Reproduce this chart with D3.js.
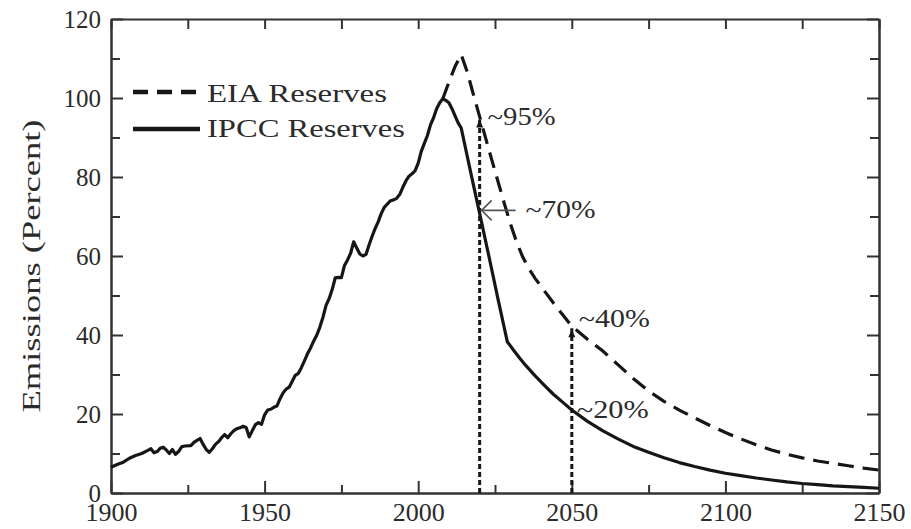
<!DOCTYPE html>
<html>
<head>
<meta charset="utf-8">
<script src="https://cdn.jsdelivr.net/npm/d3@7"></script>
<style>
  html, body { margin: 0; padding: 0; background: #fff; }
  svg { display: block; }
  text { font-family: "Liberation Serif", "Times New Roman", serif; fill: #2b2b2b; }
</style>
</head>
<body>
<svg id="chart" width="911" height="529"></svg>
<script>
// Historical emissions 1900-2014 followed by the IPCC-reserves projection (percent of peak)
const ipccYears = [
  1900, 1902, 1904, 1906, 1908, 1910, 1912, 1913, 1914, 1915, 1916, 1917, 1918, 1919,
  1920, 1921, 1922, 1923, 1924, 1926, 1927, 1928, 1929, 1930, 1931, 1932, 1933, 1934,
  1935, 1936, 1937, 1938, 1939, 1940, 1941, 1942, 1943, 1944, 1945, 1946, 1947, 1948,
  1949, 1950, 1951, 1952, 1953, 1954, 1955, 1956, 1957, 1958, 1959, 1960, 1961, 1962,
  1963, 1964, 1965, 1966, 1967, 1968, 1969, 1970, 1971, 1972, 1973, 1974, 1975, 1976,
  1977, 1978, 1979, 1980, 1981, 1982, 1983, 1984, 1985, 1986, 1987, 1988, 1989, 1990,
  1991, 1992, 1993, 1994, 1995, 1996, 1997, 1998, 1999, 2000, 2001, 2002, 2003, 2004,
  2005, 2006, 2007, 2008, 2009, 2010, 2011, 2012, 2013, 2014, 2017, 2020, 2023, 2026,
  2029, 2031, 2033, 2035, 2038, 2041, 2044, 2047, 2050, 2055, 2060, 2065, 2070, 2075,
  2080, 2085, 2090, 2095, 2100, 2105, 2110, 2115, 2120, 2125, 2130, 2135, 2140, 2145, 2150
];
const ipccValues = [
  6.5, 7.2, 7.8, 8.8, 9.5, 10.0, 10.8, 11.2, 10.2, 10.5, 11.3, 11.6, 10.9, 10.0,
  11.0, 9.8, 10.5, 11.7, 11.9, 12.0, 12.8, 13.3, 13.8, 12.3, 11.0, 10.3, 11.2, 12.3,
  13.0, 14.0, 14.8, 14.0, 15.0, 15.8, 16.3, 16.5, 16.9, 16.6, 14.2, 15.8, 17.3, 17.8,
  17.4, 19.8, 21.0, 21.2, 21.7, 22.0, 23.8, 25.3, 26.3, 26.8, 28.3, 29.8, 30.3, 31.8,
  33.5, 35.3, 36.8, 38.5, 40.0, 42.0, 44.5, 47.5, 49.2, 51.5, 54.5, 54.6, 54.5, 57.6,
  59.0, 60.7, 63.6, 62.0, 60.5, 60.0, 60.4, 62.8, 65.0, 67.0, 68.7, 70.8, 72.4, 73.2,
  74.0, 74.2, 74.6, 75.6, 77.4, 79.0, 80.2, 80.8, 81.6, 83.5, 86.5, 88.5, 90.5, 93.2,
  95.0, 97.3, 98.8, 99.8, 99.4, 98.8, 97.3, 95.5, 93.7, 92.4, 81.5, 70.8, 60.0, 49.0,
  38.3, 36.2, 34.2, 32.3, 29.7, 27.3, 25.0, 23.0, 21.0, 18.2, 15.8, 13.7, 11.8, 10.3,
  8.9, 7.7, 6.7, 5.8, 5.0, 4.4, 3.8, 3.3, 2.8, 2.4, 2.1, 1.8, 1.6, 1.4, 1.2
];

// EIA-reserves projection, branching off at the 2008 peak
const eiaYears = [
  2008, 2010, 2012, 2014, 2016, 2018, 2020, 2022, 2024, 2026, 2028, 2030, 2032, 2034,
  2036, 2038, 2040, 2045, 2050, 2055, 2060, 2065, 2070, 2075, 2080, 2085, 2090, 2095,
  2100, 2105, 2110, 2115, 2120, 2125, 2130, 2135, 2140, 2145, 2150
];
const eiaValues = [
  99.8, 104, 108, 111, 106.5, 100.8, 95.3, 89.7, 84.2, 78.8, 73.4, 68.2, 63.6, 59.8,
  56.8, 54.4, 52.3, 47.1, 42.2, 39, 36, 32.5, 29, 25.8, 23.2, 21, 19, 17.1,
  15.3, 13.7, 12.2, 10.9, 9.8, 8.9, 8.1, 7.5, 6.9, 6.3, 5.8
];

const seriesNames = ["EIA Reserves", "IPCC Reserves"];
const xTicks = [1900, 1950, 2000, 2050, 2100, 2150];
const xMinorTicks = [1925, 1975, 2025, 2075, 2125];
const yTicks = [0, 20, 40, 60, 80, 100, 120];
const yMinorTicks = [10, 30, 50, 70, 90, 110];
const markerYears = [2020, 2050];
const yTitle = "Emissions (Percent)";

const ink = "#161616";
const axisInk = "#333";

const svg = d3.select("#chart");
const x = d3.scaleLinear().domain([1900, 2150]).range([111, 879]);
const y = d3.scaleLinear().domain([0, 120]).range([493, 19]);

const ipcc = ipccYears.map((yr, i) => ({ year: yr, value: ipccValues[i] }));
const eia = eiaYears.map((yr, i) => ({ year: yr, value: eiaValues[i] }));
const valueAt = (series, yr) => series.find(d => d.year === yr).value;

// ---- frame and ticks (all ticks point inward) ----
function styleAxis(g) {
  g.select(".domain").attr("stroke", axisInk).attr("stroke-width", 2);
  g.selectAll(".tick line").attr("stroke", axisInk).attr("stroke-width", 2);
}

svg.append("g").attr("transform", `translate(0,${y(0)})`)
  .call(d3.axisBottom(x).tickValues(xTicks).tickFormat(d3.format("d"))
    .tickSizeInner(-12).tickSizeOuter(0).tickPadding(10))
  .call(styleAxis)
  .call(g => g.selectAll("text").attr("font-size", 26).attr("fill", "#2b2b2b")
    .attr("font-family", "Liberation Serif, Times New Roman, serif"));

svg.append("g").attr("transform", `translate(0,${y(0)})`)
  .call(d3.axisBottom(x).tickValues(xMinorTicks).tickFormat("")
    .tickSizeInner(-8).tickSizeOuter(0))
  .call(styleAxis);

svg.append("g").attr("transform", `translate(0,${y(120)})`)
  .call(d3.axisTop(x).tickValues(xTicks.concat(xMinorTicks)).tickFormat("")
    .tickSizeInner(-10).tickSizeOuter(0))
  .call(styleAxis);

svg.append("g").attr("transform", `translate(${x(1900)},0)`)
  .call(d3.axisLeft(y).tickValues(yTicks).tickFormat(d3.format("d"))
    .tickSizeInner(-12).tickSizeOuter(0).tickPadding(10))
  .call(styleAxis)
  .call(g => g.selectAll("text").attr("font-size", 25).attr("fill", "#2b2b2b")
    .attr("font-family", "Liberation Serif, Times New Roman, serif"));

svg.append("g").attr("transform", `translate(${x(1900)},0)`)
  .call(d3.axisLeft(y).tickValues(yMinorTicks).tickFormat("")
    .tickSizeInner(-9).tickSizeOuter(0))
  .call(styleAxis);

svg.append("g").attr("transform", `translate(${x(2150)},0)`)
  .call(d3.axisRight(y).tickValues(yTicks).tickFormat("")
    .tickSizeInner(-12).tickSizeOuter(0))
  .call(styleAxis);

svg.append("g").attr("transform", `translate(${x(2150)},0)`)
  .call(d3.axisRight(y).tickValues(yMinorTicks).tickFormat("")
    .tickSizeInner(-9).tickSizeOuter(0))
  .call(styleAxis);

// y-axis title
svg.append("text")
  .attr("transform", `translate(40,${(y(0) + y(120)) / 2 + 10}) rotate(-90)`)
  .attr("text-anchor", "middle")
  .attr("font-size", 26)
  .attr("textLength", 293)
  .attr("lengthAdjust", "spacingAndGlyphs")
  .text(yTitle);

// ---- vertical reference lines at 2020 and 2050 ----
markerYears.forEach(yr => {
  const top = y(valueAt(eia, yr));
  svg.append("line")
    .attr("x1", x(yr)).attr("x2", x(yr))
    .attr("y1", y(0)).attr("y2", top + 2)
    .attr("stroke", ink).attr("stroke-width", 3)
    .attr("stroke-dasharray", "5,3");
  svg.append("path")
    .attr("d", `M${x(yr)},${top + 3} L${x(yr) - 3.5},${top + 11} L${x(yr) + 3.5},${top + 11} Z`)
    .attr("fill", ink);
});

// ---- emission curves ----
const line = d3.line()
  .x(d => x(d.year))
  .y(d => y(d.value))
  .curve(d3.curveLinear);

svg.append("path").datum(eia)
  .attr("d", line)
  .attr("fill", "none")
  .attr("stroke", ink).attr("stroke-width", 3.2)
  .attr("stroke-dasharray", "16,9");

svg.append("path").datum(ipcc)
  .attr("d", line)
  .attr("fill", "none")
  .attr("stroke", ink).attr("stroke-width", 3.2)
  .attr("stroke-linejoin", "round");

// ---- legend ----
const legend = svg.append("g");
legend.append("line")
  .attr("x1", 133).attr("x2", 198).attr("y1", 92).attr("y2", 92)
  .attr("stroke", ink).attr("stroke-width", 4.5)
  .attr("stroke-dasharray", "15,9");
legend.append("line")
  .attr("x1", 133).attr("x2", 200).attr("y1", 129).attr("y2", 129)
  .attr("stroke", ink).attr("stroke-width", 4.5);
legend.append("text")
  .attr("x", 207).attr("y", 102)
  .attr("font-size", 26)
  .attr("textLength", 180).attr("lengthAdjust", "spacingAndGlyphs")
  .text(seriesNames[0]);
legend.append("text")
  .attr("x", 207).attr("y", 137)
  .attr("font-size", 26)
  .attr("textLength", 198).attr("lengthAdjust", "spacingAndGlyphs")
  .text(seriesNames[1]);

// ---- value call-outs ----
const eia2020 = valueAt(eia, 2020), ipcc2020 = valueAt(ipcc, 2020);
const eia2050 = valueAt(eia, 2050), ipcc2050 = valueAt(ipcc, 2050);

function callout(label, px, py, len) {
  svg.append("text")
    .attr("x", px).attr("y", py)
    .attr("font-size", 25)
    .attr("textLength", len).attr("lengthAdjust", "spacingAndGlyphs")
    .text(label);
}
callout("~95%", x(2020) + 8, y(eia2020) + 8, 68);
callout("~70%", x(2020) + 46, y(ipcc2020) + 5, 70);
callout("~40%", x(2050) + 7, y(eia2050) + 1, 71);
callout("~20%", x(2050) + 5, y(ipcc2050) + 8, 72);

// arrow pointing at the IPCC curve in 2020
const ay = y(ipcc2020) - 3;
const ax = x(2020) + 2;
svg.append("line")
  .attr("x1", ax + 34).attr("x2", ax).attr("y1", ay).attr("y2", ay)
  .attr("stroke", "#555").attr("stroke-width", 1.6);
svg.append("path")
  .attr("d", `M${ax + 10},${ay - 10} L${ax},${ay} L${ax + 10},${ay + 10}`)
  .attr("fill", "none").attr("stroke", "#555").attr("stroke-width", 1.6);
</script>
</body>
</html>
